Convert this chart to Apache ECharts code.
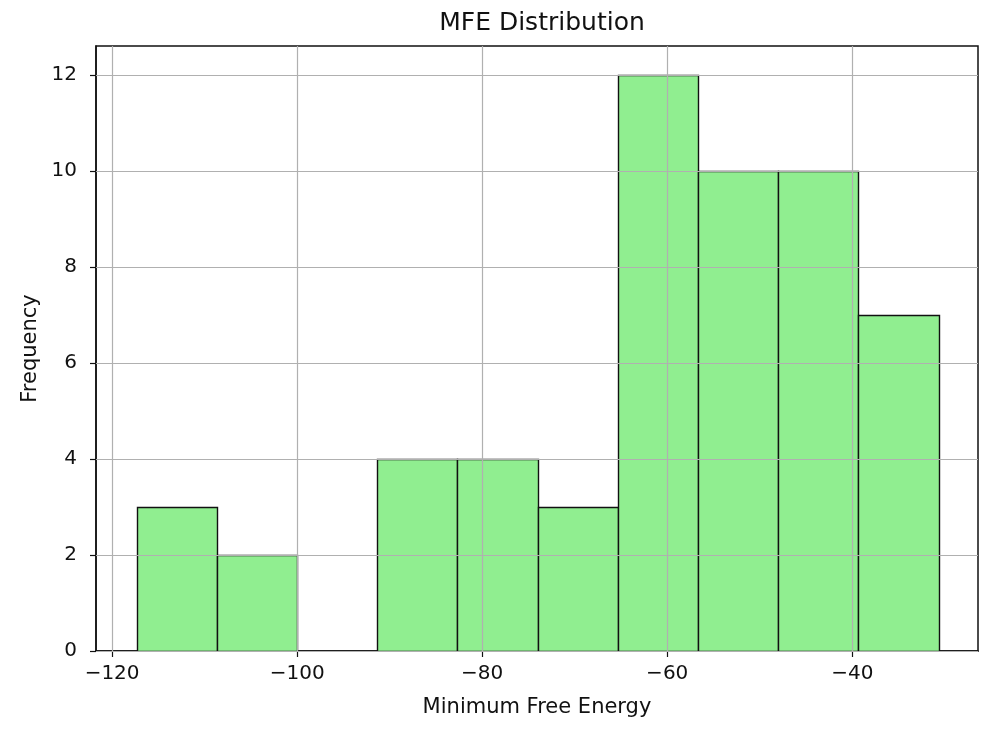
<!DOCTYPE html>
<html>
<head>
<meta charset="utf-8">
<script src="https://cdn.jsdelivr.net/npm/echarts@6/dist/echarts.min.js"></script>
<style>html,body{margin:0;padding:0;background:#fff}#c{width:1000px;height:732px}</style>
</head>
<body>
<div id="c"></div>
<script>
const binStarts = [-117.35, -108.68, -100.0, -91.35, -82.68, -74.0, -65.35, -56.65, -48.0, -39.35];
const binEnds   = [-108.68, -100.0, -91.35, -82.68, -74.0, -65.35, -56.65, -48.0, -39.35, -30.65];
const counts    = [3, 2, 0, 4, 4, 3, 12, 10, 10, 7];
const xTicks = [-120, -100, -80, -60, -40];
const yTicks = [0, 2, 4, 6, 8, 10, 12];

const FONT = 'DejaVu Sans';
const chart = echarts.init(document.getElementById('c'), null, {renderer: 'canvas'});
const minus = v => String(v).replace('-', '\u2212');

const barData = binStarts.map((s, i) => [s, binEnds[i], counts[i]]);
const GRID_COLOR = '#b0b0b0';

chart.setOption({
  animation: false,
  backgroundColor: '#fff',
  title: {
    text: 'MFE Distribution', left: 537, top: 6, textAlign: 'center',
    textStyle: {fontFamily: FONT, fontSize: 25, fontWeight: 'normal', color: '#111'}
  },
  grid: {left: 96, right: 22, top: 46, bottom: 81, show: true, borderColor: '#111', borderWidth: 1.5, backgroundColor: 'transparent'},
  xAxis: {
    type: 'value', min: -121.74, max: -26.41,
    name: 'Minimum Free Energy', nameLocation: 'middle', nameGap: 46,
    nameTextStyle: {fontFamily: FONT, fontSize: 21, color: '#111'},
    axisLine: {show: true, onZero: false, lineStyle: {color: '#111', width: 1.5}},
    axisTick: {show: true, length: 6, customValues: xTicks, lineStyle: {color: '#111', width: 1.2}},
    axisLabel: {customValues: xTicks, formatter: minus, fontFamily: FONT, fontSize: 20, color: '#111', margin: 13},
    splitLine: {show: false}
  },
  yAxis: {
    type: 'value', min: 0, max: 12.6,
    name: 'Frequency', nameLocation: 'middle', nameGap: 49,
    nameTextStyle: {fontFamily: FONT, fontSize: 21, color: '#111'},
    axisLine: {show: true, lineStyle: {color: '#111', width: 1.5}},
    axisTick: {show: true, length: 6, customValues: yTicks, lineStyle: {color: '#111', width: 1.2}},
    axisLabel: {customValues: yTicks, fontFamily: FONT, fontSize: 20, color: '#111', margin: 19},
    splitLine: {show: false}
  },
  series: [
    {
      type: 'custom', z: 2, clip: true,
      data: barData,
      renderItem: function (params, api) {
        const c = api.value(2);
        if (!c) return null;
        const p0 = api.coord([api.value(0), 0]);
        const p1 = api.coord([api.value(1), c]);
        const x0 = Math.round(p0[0]) + 0.5, x1 = Math.round(p1[0]) + 0.5;
        const y0 = Math.round(p0[1]) + 0.5, y1 = Math.round(p1[1]) + 0.5;
        return {
          type: 'rect',
          shape: {x: x0, y: y1, width: x1 - x0, height: y0 - y1},
          style: {fill: '#90EE90', stroke: '#111', lineWidth: 1.4}
        };
      }
    },
    {
      type: 'custom', z: 5, silent: true,
      data: xTicks.map(v => [v, 6]),
      renderItem: function (params, api) {
        const cs = params.coordSys;
        const x = Math.round(api.coord([api.value(0), 0])[0]) + 0.5;
        return {type: 'line', shape: {x1: x, y1: cs.y, x2: x, y2: cs.y + cs.height},
                style: {stroke: GRID_COLOR, lineWidth: 1.2}};
      }
    },
    {
      type: 'custom', z: 5, silent: true,
      data: yTicks.map(v => [-70, v]),
      renderItem: function (params, api) {
        const cs = params.coordSys;
        const y = Math.round(api.coord([-70, api.value(1)])[1]) + 0.5;
        return {type: 'line', shape: {x1: cs.x, y1: y, x2: cs.x + cs.width, y2: y},
                style: {stroke: GRID_COLOR, lineWidth: 1.2}};
      }
    }
  ]
});
</script>
</body>
</html>
